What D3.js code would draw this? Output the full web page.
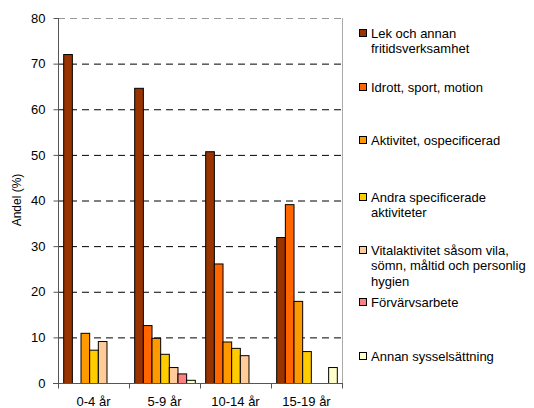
<!DOCTYPE html>
<html>
<head>
<meta charset="utf-8">
<script src="https://cdnjs.cloudflare.com/ajax/libs/d3/7.8.5/d3.min.js"></script>
<style>
  body { margin: 0; background: #fff; }
  text { font-family: "Liberation Sans", Arial, sans-serif; }
</style>
</head>
<body>
<div id="chart"></div>
<script>
// data
var categories = ["0-4 år", "5-9 år", "10-14 år", "15-19 år"];
var seriesNames = [
    ["Lek och annan", "fritidsverksamhet"],
    ["Idrott, sport, motion"],
    ["Aktivitet, ospecificerad"],
    ["Andra specificerade", "aktiviteter"],
    ["Vitalaktivitet såsom vila,", "sömn, måltid och personlig", "hygien"],
    ["Förvärvsarbete"],
    ["Annan sysselsättning"]
];
var colors = ["#993300", "#ff6600", "#ff9900", "#ffcc00", "#ffcc99", "#ff8080", "#ffffcc"];
var lek       = [72.1, 64.7, 50.8, 32.0];
var idrott    = [0, 12.7, 26.2, 39.2];
var aktivitet = [11.0, 9.9, 9.1, 18.0];
var andra     = [7.3, 6.4, 7.7, 7.0];
var vital     = [9.2, 3.5, 6.1, 0];
var forvarv   = [0, 2.1, 0, 0];
var annan     = [0, 0.7, 0, 3.5];
var series = [lek, idrott, aktivitet, andra, vital, forvarv, annan];
var yTicks = [0, 10, 20, 30, 40, 50, 60, 70, 80];
var legendY = [33, 87, 140, 197, 250, 302, 356];

var svgWidth = 534, svgHeight = 408;
var margin = { top: 18, left: 58 };
var width = 284, height = 365;

var svg = d3.select("#chart")
    .append("svg")
    .attr("width", svgWidth)
    .attr("height", svgHeight);

var chartGroup = svg.append("g")
    .attr("transform", `translate(${margin.left}, ${margin.top})`);

// scales
var x0 = d3.scaleBand()
    .domain(categories)
    .range([0, width])
    .paddingInner(0)
    .paddingOuter(0);

var x1 = d3.scaleBand()
    .domain(d3.range(series.length))
    .range([0, x0.bandwidth()])
    .paddingOuter(0.6)
    .paddingInner(0);

var yScale = d3.scaleLinear()
    .domain([0, 80])
    .range([height, 0]);

// gridlines
chartGroup.selectAll(".grid")
    .data(yTicks.filter(d => d > 0))
    .enter()
    .append("line")
    .attr("x1", 0)
    .attr("x2", width)
    .attr("y1", d => yScale(d) + 0.5)
    .attr("y2", d => yScale(d) + 0.5)
    .attr("stroke", d => d === 80 ? "#999" : "#000")
    .attr("stroke-width", 1)
    .attr("stroke-dasharray", "7,5");

// right border
chartGroup.append("line")
    .attr("x1", width + 0.5).attr("x2", width + 0.5)
    .attr("y1", 0).attr("y2", height)
    .attr("stroke", "#aaa");

// bars
series.forEach(function(vals, i) {
    chartGroup.append("g").selectAll("rect")
        .data(vals.map((v, j) => ({ cat: categories[j], v: v })).filter(d => d.v > 0))
        .enter()
        .append("rect")
        .attr("x", d => x0(d.cat) + x1(i) + 0.5)
        .attr("y", d => yScale(d.v) + 0.5)
        .attr("width", x1.bandwidth())
        .attr("height", d => height - yScale(d.v))
        .attr("fill", colors[i])
        .attr("stroke", "#000")
        .attr("stroke-width", 1);
});

// axes
var yAxis = d3.axisLeft(yScale).tickValues(yTicks).tickSize(5).tickPadding(8);
var yG = chartGroup.append("g")
    .attr("transform", "translate(0.5, 0)")
    .call(yAxis);
yG.select(".domain").attr("stroke", "#555").attr("d", `M0,0V${height + 0.5}`);
yG.selectAll(".tick line").attr("stroke", "#555");
yG.selectAll("text").attr("font-size", "13px").attr("fill", "#000")
    .attr("font-family", "Liberation Sans, Arial, sans-serif");

var xG = chartGroup.append("g")
    .attr("transform", `translate(0, ${height + 0.5})`);
xG.append("line")
    .attr("x1", -5).attr("x2", width + 1)
    .attr("stroke", "#555");
xG.selectAll(".xt")
    .data(categories.concat(["end"]))
    .enter()
    .append("line")
    .attr("x1", (d, i) => (i < categories.length ? x0(d) : width) + 0.5)
    .attr("x2", (d, i) => (i < categories.length ? x0(d) : width) + 0.5)
    .attr("y1", 0).attr("y2", 5)
    .attr("stroke", "#555");
xG.selectAll(".xl")
    .data(categories)
    .enter()
    .append("text")
    .attr("x", d => x0(d) + x0.bandwidth() / 2)
    .attr("y", 22)
    .attr("text-anchor", "middle")
    .attr("font-size", "13px")
    .text(d => d);

// axis title
svg.append("text")
    .attr("transform", "rotate(-90)")
    .attr("x", -200)
    .attr("y", 21)
    .attr("text-anchor", "middle")
    .attr("font-size", "12px")
    .text("Andel (%)");

// legend
var legend = svg.append("g");
seriesNames.forEach(function(lines, i) {
    var cy = legendY[i];
    legend.append("rect")
        .attr("x", 359.5).attr("y", cy - 3.5)
        .attr("width", 7).attr("height", 7)
        .attr("fill", colors[i])
        .attr("stroke", "#000");
    lines.forEach(function(t, k) {
        legend.append("text")
            .attr("x", 371)
            .attr("y", cy + 4.5 + k * 15.5)
            .attr("font-size", "13px")
            .text(t);
    });
});
</script>
</body>
</html>
